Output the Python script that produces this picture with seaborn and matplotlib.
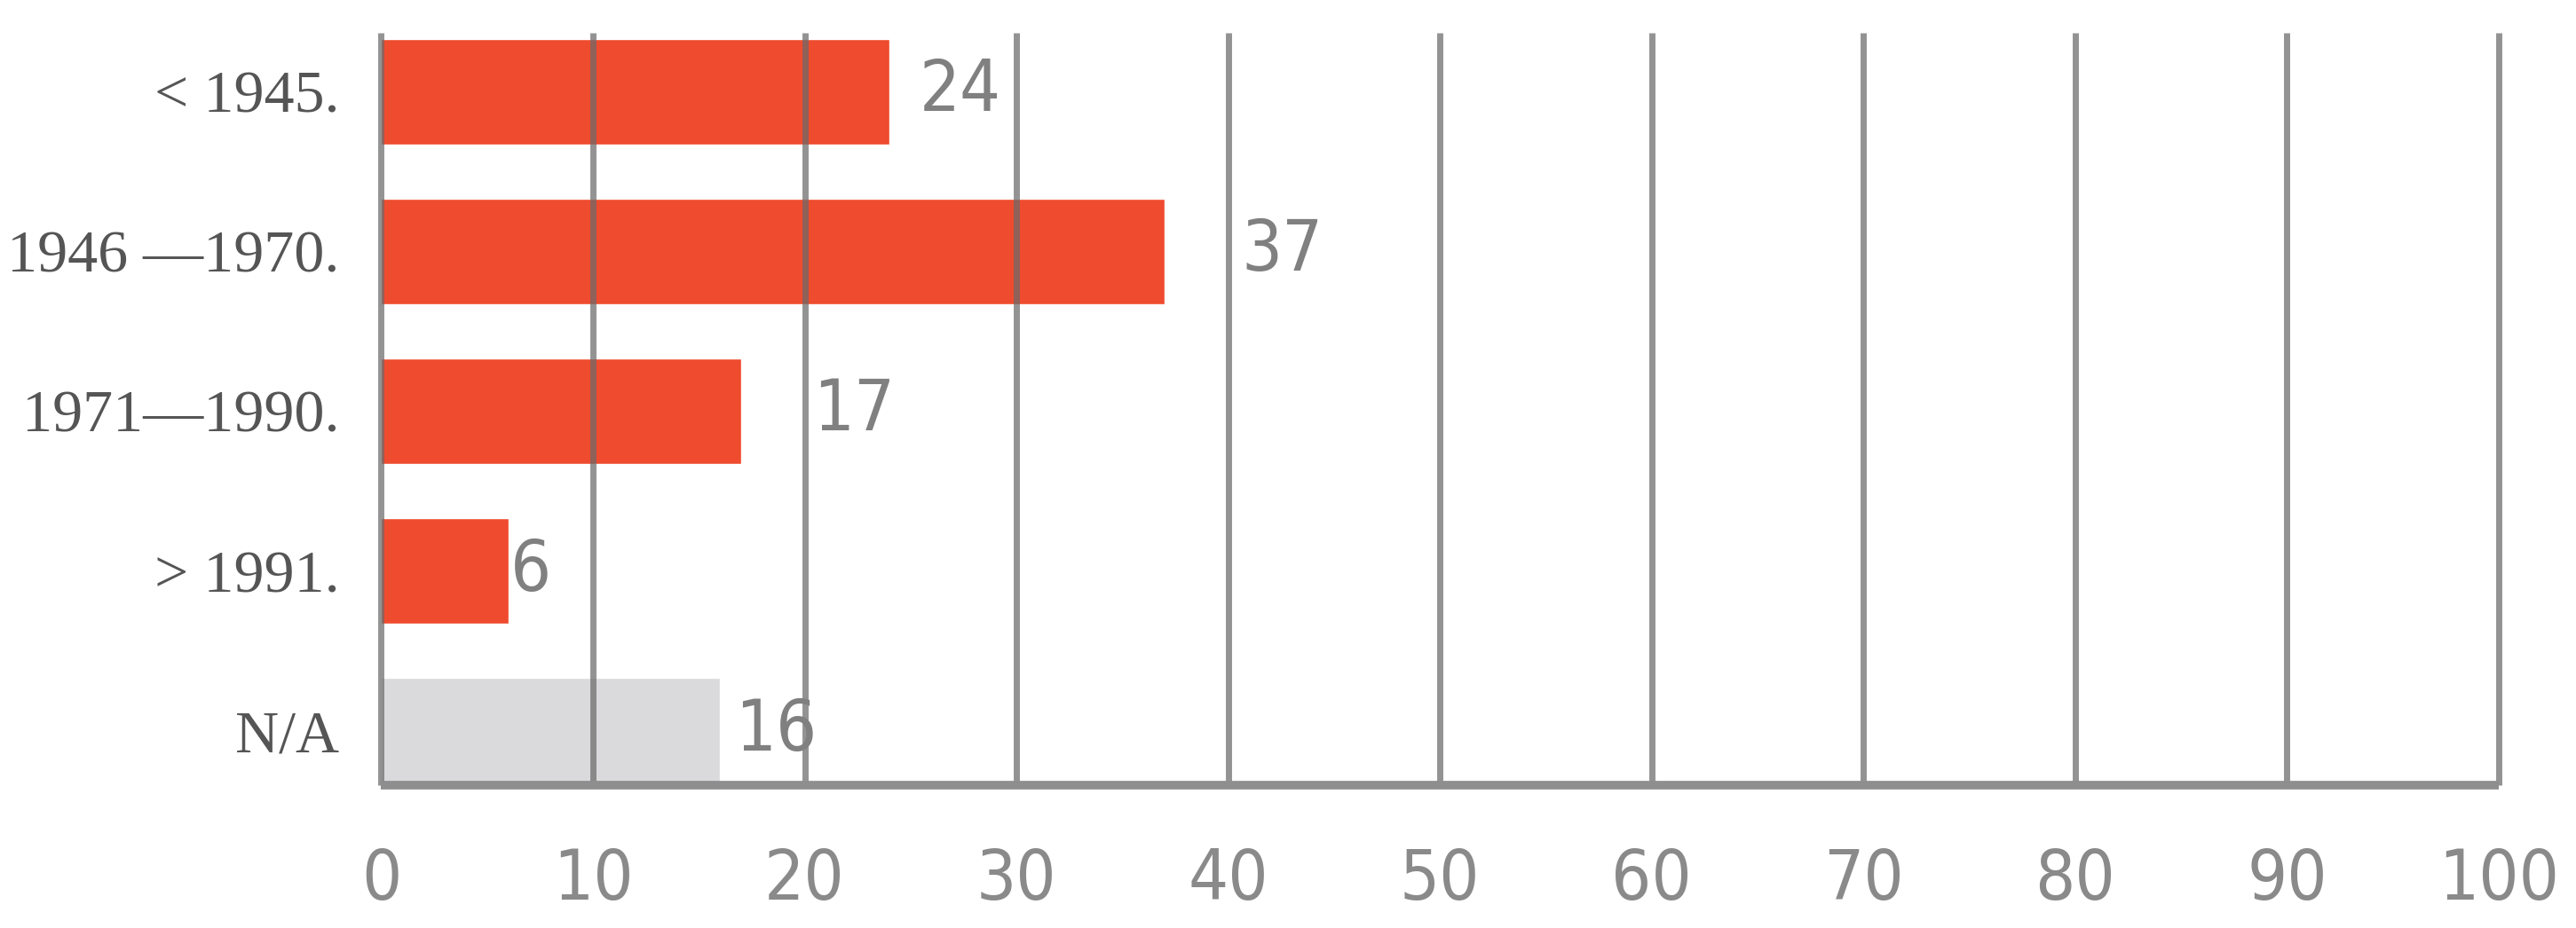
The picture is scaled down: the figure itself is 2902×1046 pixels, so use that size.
import matplotlib
matplotlib.use("Agg")
import matplotlib.pyplot as plt
import seaborn as sns

categories = ["< 1945.", "1946 —1970.", "1971—1990.", "> 1991.", "N/A"]
values = [24, 37, 17, 6, 16]
bar_colors = ["#EF4B2E", "#EF4B2E", "#EF4B2E", "#EF4B2E", "#DADADC"]
x_ticks = [0, 10, 20, 30, 40, 50, 60, 70, 80, 90, 100]

# gap between bar end and value label, in data units (uneven in the original)
label_pad = [1.4, 3.6, 3.4, 0.1, 0.7]

sns.set_style("white")
plt.rcParams['font.family'] = ['DejaVu Sans']

fig, ax = plt.subplots(figsize=(29.02, 10.46), dpi=100)
fig.subplots_adjust(left=0.148, right=0.970, top=0.965, bottom=0.154)

sns.barplot(
    x=values, y=categories, hue=categories, palette=bar_colors,
    orient="h", width=0.66, legend=False, ax=ax, saturation=1,
)
for p in ax.patches:
    p.set_zorder(1)

ax.set_xlim(0, 100)
ax.set_ylim(4.34, -0.37)
ax.set_xticks(x_ticks)
ax.set_xticklabels([str(t) for t in x_ticks])

for t in x_ticks:
    ax.axvline(t, color="#6a6a6a", alpha=0.72, lw=5, zorder=3,
               clip_on=False, solid_capstyle="butt")

for i, v in enumerate(values):
    ax.text(v + label_pad[i], i, str(v), va="center", ha="left",
            fontsize=58, color="#808080", zorder=4,
            fontfamily="DejaVu Sans", fontstretch="condensed")

for side in ["top", "right", "left"]:
    ax.spines[side].set_visible(False)
ax.spines["bottom"].set_color("#8e8e8e")
ax.spines["bottom"].set_linewidth(7)
ax.spines["bottom"].set_capstyle("butt")
ax.spines["bottom"].set_zorder(5)

ax.tick_params(axis="x", length=0, pad=50)
ax.tick_params(axis="y", length=0, pad=34)
for lbl in ax.get_xticklabels():
    lbl.set_fontfamily("DejaVu Sans")
    lbl.set_fontstretch("condensed")
    lbl.set_fontsize(57)
    lbl.set_color("#8a8a8a")
for lbl in ax.get_yticklabels():
    lbl.set_fontfamily("Liberation Serif")
    lbl.set_fontsize(49)
    lbl.set_color("#555555")

ax.set_xlabel("")
ax.set_ylabel("")

fig.savefig("out.png", dpi=100, facecolor="white")
